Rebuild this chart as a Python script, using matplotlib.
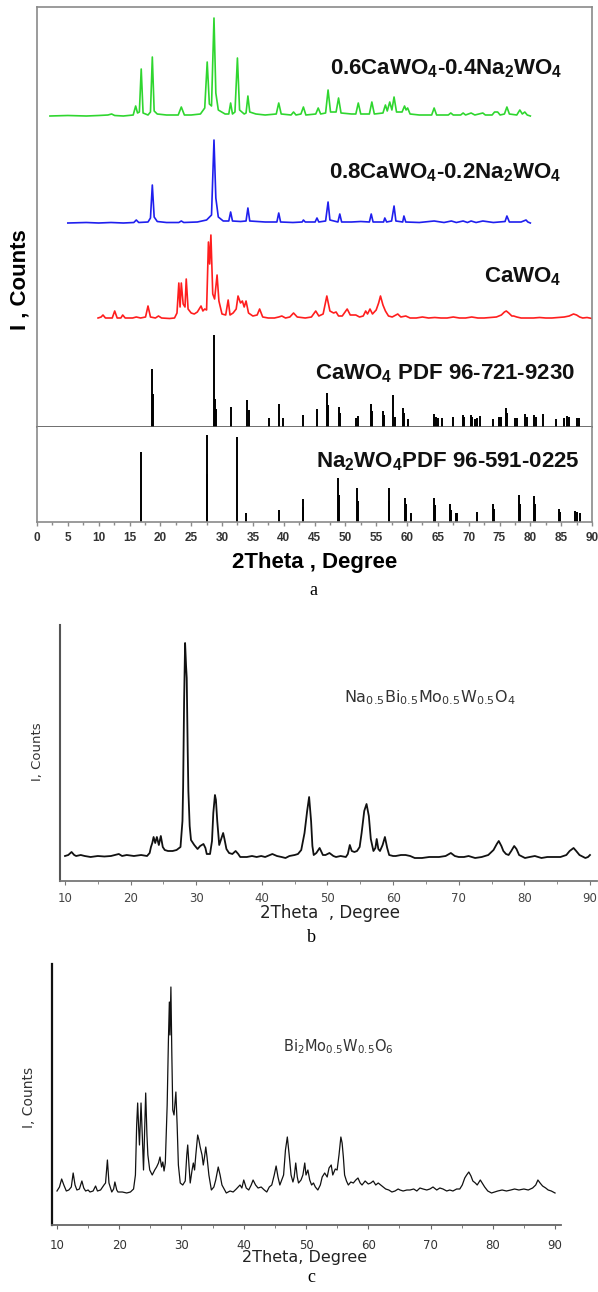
import matplotlib
matplotlib.use("Agg")
import matplotlib.pyplot as plt
import numpy as np
from matplotlib.ticker import MultipleLocator

plt.rcParams['mathtext.default'] = 'regular'

# ---------------- data ----------------
# Panel a : measured patterns, (2theta, intensity above own baseline)
green_pts = [(2.1, 0), (5, 0.5), (8, 0), (10, 0.5), (11.5, 1), (12.1, 2), (12.6, 0.5), (14, 0),
             (15.6, 1), (16.0, 10), (16.3, 3), (16.6, 4), (16.9, 47), (17.2, 3), (18.0, 1), (18.4, 4),
             (18.7, 59), (19.0, 5), (19.5, 2), (21, 1), (22.9, 1), (23.4, 9), (23.9, 1), (25, 1),
             (26.5, 2), (27.2, 8), (27.6, 54), (27.95, 12), (28.3, 10), (28.7, 98), (29.0, 23),
             (29.4, 6), (30.5, 2), (31.1, 2), (31.4, 13), (31.7, 2), (32.1, 4), (32.5, 58), (32.85, 6),
             (33.6, 2), (33.9, 3), (34.2, 20), (34.5, 4), (35.5, 2), (37, 1), (38.8, 2), (39.2, 13),
             (39.6, 2), (41.2, 1), (41.6, 4), (42.0, 1), (42.8, 2), (43.2, 9), (43.6, 1), (45.2, 2),
             (45.6, 8), (46.0, 2), (46.8, 3), (47.2, 26), (47.6, 4), (48.5, 4), (48.9, 18), (49.3, 3),
             (51.0, 2), (51.7, 2), (52.1, 13), (52.5, 2), (53.9, 2), (54.3, 14), (54.7, 2), (56.1, 3),
             (56.5, 11), (56.8, 5), (57.2, 14), (57.55, 6), (57.9, 19), (58.3, 4), (59.2, 4), (59.6, 10),
             (59.85, 6), (60.1, 8), (60.5, 2), (62, 1), (64.0, 1), (64.4, 8), (64.8, 1), (66.7, 1),
             (67.1, 3), (67.5, 1), (68.7, 1), (69.1, 3), (69.5, 1), (70.4, 3), (71, 1), (72.3, 3),
             (72.7, 1), (73.8, 1), (74.2, 4), (74.7, 4), (75.1, 1), (75.8, 2), (76.2, 9), (76.6, 2),
             (77.8, 1), (78.3, 6), (78.7, 2), (79.1, 4), (79.5, 1), (80.0, 0)]

blue_pts = [(5.0, 0), (8, 0.5), (10, 0), (12, 0.5), (14, 0), (15.7, 0.5), (16.1, 3), (16.5, 0.5),
            (18.0, 1), (18.4, 5), (18.7, 38), (19.0, 6), (19.5, 1.5), (21, 0.5), (23.0, 0.5), (23.4, 2),
            (23.8, 0.5), (26, 1), (27.5, 3), (28.3, 8), (28.7, 83), (29.0, 25), (29.4, 6), (30.2, 2),
            (31.1, 2), (31.4, 11), (31.7, 2), (33.0, 1.5), (33.9, 2), (34.2, 15), (34.5, 2), (37, 1),
            (38.9, 1), (39.2, 10), (39.5, 1), (41.5, 0.5), (43.0, 1), (43.2, 3), (43.5, 1), (45.1, 1),
            (45.4, 5), (45.7, 1), (46.8, 2), (47.2, 21), (47.5, 3), (48.8, 1), (49.1, 9), (49.4, 1),
            (51, 1), (52.5, 1.5), (53.9, 1), (54.2, 9), (54.5, 1), (56.2, 1), (56.4, 5), (56.7, 1),
            (57.5, 2), (57.9, 17), (58.2, 2), (59.3, 1), (59.5, 7), (59.8, 1), (62, 0.5), (64.4, 2),
            (66, 0.5), (67.2, 2), (68, 0.5), (69.1, 2), (69.8, 0.5), (70.4, 2), (71.2, 0.5), (72.3, 2),
            (74, 0.5), (75.9, 1.5), (76.2, 7), (76.6, 1), (78.5, 1), (79.3, 3), (79.6, 1), (80.0, 0)]

red_pts = [(9.9, 1), (10.4, 2), (10.7, 4), (11.1, 1), (12.2, 1), (12.6, 8), (13.0, 1), (13.6, 1),
           (13.9, 4), (14.3, 1), (15.5, 1), (16.1, 2), (16.8, 1), (17.6, 2), (18.0, 13), (18.4, 2),
           (19.2, 1), (19.7, 3), (20.2, 1), (21.5, 0.5), (22.3, 1), (22.7, 6), (23.0, 36), (23.2, 12),
           (23.4, 36), (23.7, 15), (24.0, 12), (24.2, 40), (24.5, 10), (25.0, 6), (25.5, 5), (26.0, 7),
           (26.6, 13), (26.9, 8), (27.2, 10), (27.5, 9), (27.8, 77), (28.0, 55), (28.2, 84), (28.5, 25),
           (28.8, 20), (29.2, 44), (29.5, 18), (30.0, 5), (30.6, 4), (31.0, 19), (31.3, 4), (31.8, 6),
           (32.3, 10), (32.6, 23), (33.0, 16), (33.3, 18), (33.6, 12), (33.9, 18), (34.3, 6), (35.0, 3),
           (35.7, 4), (36.1, 10), (36.6, 2), (37.5, 1), (38.5, 1), (39.2, 2), (39.7, 3), (40.3, 1),
           (41.0, 2), (41.6, 6), (42.2, 2), (43.5, 1), (44.5, 2), (45.2, 8), (45.7, 3), (46.4, 5),
           (47.0, 23), (47.5, 8), (48.1, 6), (48.5, 7), (48.9, 3), (49.5, 3), (50.3, 10), (50.8, 4),
           (51.3, 4), (51.7, 4), (52.3, 2), (52.9, 3), (53.3, 8), (53.6, 5), (54.0, 10), (54.4, 5),
           (55.0, 9), (55.4, 16), (55.7, 23), (56.1, 14), (56.5, 8), (57.0, 3), (57.6, 2), (58.5, 5),
           (59.0, 2), (59.8, 3), (60.5, 1), (61.5, 1), (62.5, 2), (63.5, 1), (64.5, 1.5), (65.5, 1),
           (66.5, 1), (67.5, 2), (68.5, 1), (69.5, 1), (70.5, 2), (71.5, 1), (72.5, 1), (73.5, 1.5),
           (74.5, 2), (75.3, 4), (75.8, 7), (76.1, 8), (76.5, 6), (77.0, 3), (77.3, 3), (77.8, 2),
           (78.5, 1), (79.5, 1), (80.5, 1), (81.5, 1.5), (82.5, 1), (83.5, 1), (84.5, 1.5), (85.5, 2),
           (86.3, 3), (87.0, 5), (87.5, 4), (88.0, 2), (88.5, 1), (89.2, 1.5), (90.0, 0.5)]

# Reference stick patterns (2theta, relative intensity)
cawo4_pdf = [(18.6, 58), (18.8, 33), (28.7, 92), (28.9, 28), (29.0, 18), (31.4, 20), (34.1, 27),
             (34.3, 17), (37.7, 9), (39.2, 23), (39.9, 9), (43.2, 12), (45.4, 18), (47.0, 34), (47.2, 22),
             (48.9, 20), (49.1, 14), (51.7, 9), (52.1, 11), (54.2, 23), (54.3, 16), (56.1, 16), (56.3, 12),
             (57.8, 32), (58.0, 10), (59.3, 19), (59.5, 14), (60.2, 8), (64.3, 13), (64.7, 10), (65.1, 9),
             (65.6, 9), (67.5, 10), (69.0, 12), (69.3, 10), (70.4, 12), (70.6, 10), (71.0, 8), (71.3, 9),
             (71.9, 11), (74.0, 8), (74.9, 10), (75.3, 10), (76.0, 19), (76.2, 14), (77.5, 9), (77.9, 9),
             (79.1, 13), (79.4, 10), (80.6, 12), (80.9, 10), (82.1, 13), (84.2, 8), (85.5, 9), (86.0, 11),
             (86.3, 10), (87.5, 9), (87.9, 9)]

na2wo4_pdf = [(16.8, 70), (27.5, 87), (27.6, 48), (32.4, 85), (33.9, 9), (39.3, 12), (43.1, 23),
              (43.2, 15), (48.8, 44), (48.9, 27), (51.9, 34), (52.0, 21), (57.0, 34), (57.1, 21),
              (59.7, 24), (59.9, 18), (60.6, 9), (64.4, 24), (64.5, 17), (67.0, 18), (67.2, 12),
              (68.0, 9), (68.1, 9), (71.4, 10), (74.0, 18), (74.1, 13), (78.2, 27), (78.3, 18),
              (80.6, 26), (80.7, 18), (84.7, 13), (84.8, 10), (87.2, 11), (87.5, 10), (88.0, 9)]

labels_a = [r"0.6CaWO$_4$-0.4Na$_2$WO$_4$", r"0.8CaWO$_4$-0.2Na$_2$WO$_4$", r"CaWO$_4$",
            r"CaWO$_4$ PDF 96-721-9230", r"Na$_2$WO$_4$PDF 96-591-0225"]

# Panel b : Na0.5Bi0.5Mo0.5W0.5O4
nbmw_pts = [(10.0, 25), (10.5, 26), (11.0, 29), (11.4, 26), (11.7, 25), (12.4, 26), (13.0, 25),
            (13.9, 24), (15, 25), (16, 24.5), (17, 25), (18.2, 27), (18.7, 25), (19.4, 26), (20.5, 25),
            (21.6, 26), (22.5, 25), (22.9, 28), (23.1, 34), (23.3, 38), (23.5, 44), (23.75, 38),
            (24.0, 44), (24.3, 36), (24.6, 45), (24.9, 34), (25.2, 31), (25.7, 30), (26.4, 30),
            (27.0, 31), (27.6, 34), (27.9, 60), (28.0, 94), (28.15, 180), (28.3, 238), (28.45, 215),
            (28.55, 203), (28.7, 130), (28.8, 90), (29.0, 55), (29.2, 41), (29.7, 36), (30.2, 32),
            (30.6, 35), (31.1, 37), (31.4, 33), (31.6, 27), (32.1, 27), (32.4, 40), (32.6, 68),
            (32.85, 86), (33.0, 81), (33.2, 60), (33.5, 36), (33.8, 42), (34.1, 48), (34.3, 42),
            (34.6, 32), (35.0, 28), (35.5, 27), (36.0, 30), (36.4, 27), (36.7, 24), (37.7, 24),
            (38.5, 25), (39.2, 24), (39.9, 25), (40.5, 24), (41.6, 27), (42.3, 25), (43.0, 24),
            (43.6, 23), (44.2, 25), (45.0, 26), (45.5, 27), (46.0, 31), (46.5, 48), (46.9, 70),
            (47.2, 84), (47.5, 60), (47.7, 35), (47.9, 26), (48.3, 28), (48.8, 33), (49.3, 26),
            (49.7, 26), (50.3, 28), (50.9, 25), (51.3, 24), (52.0, 25), (52.8, 24), (53.1, 27),
            (53.4, 36), (53.7, 30), (54.1, 29), (54.5, 30), (54.9, 34), (55.2, 48), (55.6, 70),
            (55.95, 77), (56.3, 65), (56.6, 42), (57.0, 30), (57.3, 33), (57.5, 42), (57.75, 32),
            (58.0, 30), (58.4, 36), (58.75, 44), (59.1, 33), (59.4, 26), (60.0, 25), (60.4, 25),
            (61.2, 26), (61.9, 26), (62.6, 25), (63.3, 23), (64.4, 23), (65.5, 24), (67.0, 24),
            (68.0, 25), (68.8, 28), (69.4, 25), (70.0, 24), (70.8, 24), (71.5, 25), (72.0, 24),
            (72.5, 23), (73.5, 24), (74.5, 26), (75.3, 31), (75.8, 37), (76.1, 40), (76.5, 35),
            (76.8, 30), (77.2, 27), (77.6, 26), (78.0, 30), (78.45, 35), (78.8, 32), (79.2, 26),
            (80.1, 23), (80.8, 24), (81.6, 25), (82.1, 24), (82.6, 23), (83.5, 24), (84.6, 24),
            (85.5, 24), (86.4, 26), (86.9, 30), (87.5, 33), (87.9, 30), (88.4, 26), (89.3, 23),
            (89.7, 24), (90.0, 26)]
label_b = r"Na$_{0.5}$Bi$_{0.5}$Mo$_{0.5}$W$_{0.5}$O$_4$"

# Panel c : Bi2Mo0.5W0.5O6
bmw_pts = [(10.0, 34), (10.4, 38), (10.75, 46), (11.1, 40), (11.5, 34), (11.9, 35), (12.3, 38),
           (12.6, 52), (12.9, 40), (13.2, 35), (13.6, 36), (14.0, 44), (14.3, 37), (14.6, 34),
           (15.0, 35), (15.3, 33), (15.8, 34), (16.2, 39), (16.5, 34), (17.0, 35), (17.55, 40),
           (17.8, 42), (18.1, 65), (18.35, 42), (18.8, 33), (19.1, 36), (19.3, 43), (19.6, 35),
           (19.8, 33), (20.5, 33), (21.2, 32), (21.8, 33), (22.3, 36), (22.6, 50), (22.8, 100),
           (22.96, 122), (23.1, 100), (23.25, 80), (23.5, 122), (23.7, 90), (23.9, 55), (24.1, 100),
           (24.25, 132), (24.45, 90), (24.6, 70), (24.9, 55), (25.3, 50), (25.7, 55), (26.0, 58),
           (26.3, 62), (26.55, 68), (26.8, 58), (27.0, 63), (27.2, 54), (27.4, 62), (27.7, 120),
           (27.9, 185), (28.05, 223), (28.15, 190), (28.3, 238), (28.45, 170), (28.6, 115),
           (28.8, 110), (29.1, 133), (29.3, 100), (29.5, 60), (29.8, 42), (30.2, 40), (30.6, 44),
           (30.85, 70), (31.0, 80), (31.2, 60), (31.4, 42), (31.7, 55), (31.9, 62), (32.1, 55),
           (32.3, 70), (32.6, 90), (32.8, 85), (33.0, 78), (33.3, 70), (33.5, 60), (33.7, 68),
           (33.9, 78), (34.1, 68), (34.4, 50), (34.8, 35), (35.2, 38), (35.5, 45), (35.9, 58),
           (36.2, 50), (36.5, 40), (37.2, 32), (37.8, 34), (38.3, 33), (38.8, 36), (39.4, 40),
           (39.7, 37), (40.0, 45), (40.4, 37), (40.8, 35), (41.2, 40), (41.5, 45), (41.9, 40),
           (42.3, 37), (42.8, 38), (43.3, 35), (43.7, 33), (44.1, 38), (44.5, 40), (44.9, 50),
           (45.2, 59), (45.5, 48), (45.8, 40), (46.1, 45), (46.4, 50), (46.7, 75), (47.0, 88),
           (47.3, 70), (47.6, 50), (47.9, 43), (48.1, 48), (48.35, 62), (48.6, 48), (48.8, 42),
           (49.2, 45), (49.5, 50), (49.8, 62), (50.0, 50), (50.3, 55), (50.6, 45), (50.9, 40),
           (51.2, 42), (51.5, 38), (51.9, 35), (52.3, 40), (52.6, 48), (53.0, 52), (53.4, 48),
           (53.7, 57), (54.05, 60), (54.3, 50), (54.7, 56), (55.0, 55), (55.3, 70), (55.6, 88),
           (55.8, 82), (56.0, 68), (56.2, 50), (56.5, 44), (56.8, 40), (57.2, 43), (57.6, 42),
           (58.0, 45), (58.35, 47), (58.7, 42), (59.0, 40), (59.5, 44), (60.0, 41), (60.4, 42),
           (60.8, 44), (61.2, 40), (61.6, 42), (62.0, 40), (62.4, 38), (62.8, 36), (63.3, 35),
           (63.8, 33), (64.3, 34), (64.8, 36), (65.1, 35), (65.6, 34), (66.2, 35), (66.7, 35),
           (67.3, 36), (67.8, 34), (68.3, 37), (68.8, 36), (69.4, 35), (69.9, 36), (70.4, 38),
           (71.0, 35), (71.5, 37), (72.0, 36), (72.6, 34), (73.1, 35), (73.6, 34), (74.2, 36),
           (74.7, 36), (75.1, 40), (75.5, 47), (75.8, 50), (76.15, 53), (76.5, 49), (76.8, 44),
           (77.2, 42), (77.5, 40), (78.0, 45), (78.3, 42), (78.7, 38), (79.2, 34), (79.8, 32),
           (80.3, 33), (80.8, 34), (81.5, 35), (82.2, 34), (82.9, 35), (83.5, 36), (84.2, 35),
           (85.0, 36), (85.7, 35), (86.4, 37), (86.9, 40), (87.25, 45), (87.6, 42), (88.0, 39),
           (88.5, 37), (88.9, 35), (89.4, 34), (90.0, 32)]
label_c = r"Bi$_2$Mo$_{0.5}$W$_{0.5}$O$_6$"

ticks_a = list(range(0, 91, 5))
ticks_bc = list(range(10, 91, 10))

# ---------------- figure ----------------
W, H = 598, 1292
fig = plt.figure(figsize=(W / 100, H / 100), dpi=100)


def rect(l, t, r, b):
    return [l / W, 1 - b / H, (r - l) / W, (b - t) / H]


def fpos(px, py):
    return px / W, 1 - py / H


def xy(pts):
    a = np.array(pts, dtype=float)
    return a[:, 0], a[:, 1]


SANS_B = 'Liberation Sans'
SANS = 'DejaVu Sans'
SPINE_A = '#8a8a8a'

# ---- panel a ----
ax_t = fig.add_axes(rect(37, 7, 592, 427))
ax_n = fig.add_axes(rect(37, 427, 592, 522), sharex=ax_t)
ax_t.set_xlim(0, 90)
ax_t.set_ylim(0, 420)
ax_n.set_ylim(0, 95)

off_red, off_blue, off_green = 108, 204, 311
gx, gy = xy(green_pts)
ax_t.plot(gx, gy + off_green, color='#2fd62f', lw=1.2)
bx, by = xy(blue_pts)
ax_t.plot(bx, by + off_blue, color='#1f1fee', lw=1.2)
rx, ry = xy(red_pts)
ax_t.plot(rx, ry + off_red, color='#ff1e1e', lw=1.2)
cx, cy = xy(cawo4_pdf)
ax_t.vlines(cx, 0, cy, color='black', lw=1.4)
nx, ny = xy(na2wo4_pdf)
ax_n.vlines(nx, 0, ny, color='black', lw=1.4)

for s in ax_t.spines.values():
    s.set_color(SPINE_A)
    s.set_linewidth(1.2)
ax_t.spines['bottom'].set_color('#555555')
ax_t.tick_params(left=False, labelleft=False, bottom=False, labelbottom=False)
for s in ax_n.spines.values():
    s.set_color(SPINE_A)
    s.set_linewidth(1.2)
ax_n.spines['top'].set_visible(False)
ax_n.set_xticks(ticks_a)
ax_n.xaxis.set_minor_locator(MultipleLocator(2.5))
ax_n.tick_params(axis='x', which='major', direction='out', length=3, width=1, color=SPINE_A,
                 pad=4, labelsize=8.5, labelcolor='#333333')
ax_n.tick_params(axis='x', which='minor', direction='out', length=2, width=1, color=SPINE_A)
ax_n.tick_params(left=False, labelleft=False)
for t in ax_n.get_xticklabels():
    t.set_fontfamily(SANS_B)
    t.set_fontweight('bold')

ax_n.set_xlabel('2Theta , Degree', fontsize=16, fontweight='bold', family=SANS_B,
                va='baseline', ha='center')
ax_n.xaxis.set_label_coords(0.5, (522 - 568) / 95)
ax_t.set_ylabel('I , Counts', fontsize=16, fontweight='bold', family=SANS_B,
                va='center', ha='center')
ax_t.yaxis.set_label_coords((20 - 37) / 555, (427 - 280) / 420)

label_pos_a = [(446, 74), (445, 178), (523, 282), (445, 379), (448, 467)]
for txt, (px, py) in zip(labels_a, label_pos_a):
    fig.text(*fpos(px, py), txt, fontsize=16, fontweight='bold', family=SANS_B,
             ha='center', va='baseline', color='#111111')
fig.text(*fpos(313, 591), 'a', fontsize=13, family='Liberation Serif', ha='center', va='center')

# ---- panel b ----
ax_b = fig.add_axes(rect(60, 625, 597, 881))
ax_b.set_xlim(9.238, 91.07)
ax_b.set_ylim(0, 256)
px_, py_ = xy(nbmw_pts)
ax_b.plot(px_, py_, color='#111111', lw=1.3)
ax_b.spines['top'].set_visible(False)
ax_b.spines['right'].set_visible(False)
ax_b.spines['left'].set_color('#555555')
ax_b.spines['left'].set_linewidth(1.5)
ax_b.spines['bottom'].set_color('#777777')
ax_b.spines['bottom'].set_linewidth(1.3)
ax_b.set_xticks(ticks_bc)
ax_b.xaxis.set_minor_locator(MultipleLocator(5))
ax_b.tick_params(axis='x', which='major', direction='out', length=3, color='#777777', pad=5,
                 labelsize=8.5, labelcolor='#444444')
ax_b.tick_params(axis='x', which='minor', direction='out', length=2, color='#777777')
ax_b.tick_params(left=False, labelleft=False)
for t in ax_b.get_xticklabels():
    t.set_fontfamily(SANS)
ax_b.set_xlabel('2Theta  , Degree', fontsize=12, family=SANS, color='#222222',
                va='baseline', ha='center')
ax_b.xaxis.set_label_coords((330 - 60) / 537, (881 - 918) / 256)
ax_b.set_ylabel('I, Counts', fontsize=9.5, family=SANS, color='#333333', va='center', ha='center')
ax_b.yaxis.set_label_coords((37 - 60) / 537, (881 - 752) / 256)
fig.text(*fpos(430, 698), label_b, fontsize=11.5, family=SANS, color='#333333',
         ha='center', va='center')
fig.text(*fpos(311, 938), 'b', fontsize=13, family='Liberation Serif', ha='center', va='center')

# ---- panel c ----
ax_c = fig.add_axes(rect(52, 964, 561, 1225))
ax_c.set_xlim(9.2, 90.96)
ax_c.set_ylim(0, 261)
qx, qy = xy(bmw_pts)
ax_c.plot(qx, qy, color='#111111', lw=0.9)
ax_c.spines['top'].set_visible(False)
ax_c.spines['right'].set_visible(False)
ax_c.spines['left'].set_color('#111111')
ax_c.spines['left'].set_linewidth(1.6)
ax_c.spines['bottom'].set_color('#666666')
ax_c.spines['bottom'].set_linewidth(1.3)
ax_c.set_xticks(ticks_bc)
ax_c.xaxis.set_minor_locator(MultipleLocator(5))
ax_c.tick_params(axis='x', which='major', direction='out', length=3, color='#666666', pad=7,
                 labelsize=8.5, labelcolor='#333333')
ax_c.tick_params(axis='x', which='minor', direction='out', length=2, color='#666666')
ax_c.tick_params(left=False, labelleft=False)
for t in ax_c.get_xticklabels():
    t.set_fontfamily(SANS)
ax_c.set_xlabel('2Theta, Degree', fontsize=11.5, family=SANS, color='#222222',
                va='baseline', ha='center')
ax_c.xaxis.set_label_coords((305 - 52) / 509, (1225 - 1262) / 261)
ax_c.set_ylabel('I, Counts', fontsize=10, family=SANS, color='#333333', va='center', ha='center')
ax_c.yaxis.set_label_coords((29 - 52) / 509, (1225 - 1097) / 261)
fig.text(*fpos(338, 1047), label_c, fontsize=10.5, family=SANS, color='#333333',
         ha='center', va='center')
fig.text(*fpos(311, 1278), 'c', fontsize=13, family='Liberation Serif', ha='center', va='center')

fig.savefig('out.png', dpi=100, facecolor='white')
